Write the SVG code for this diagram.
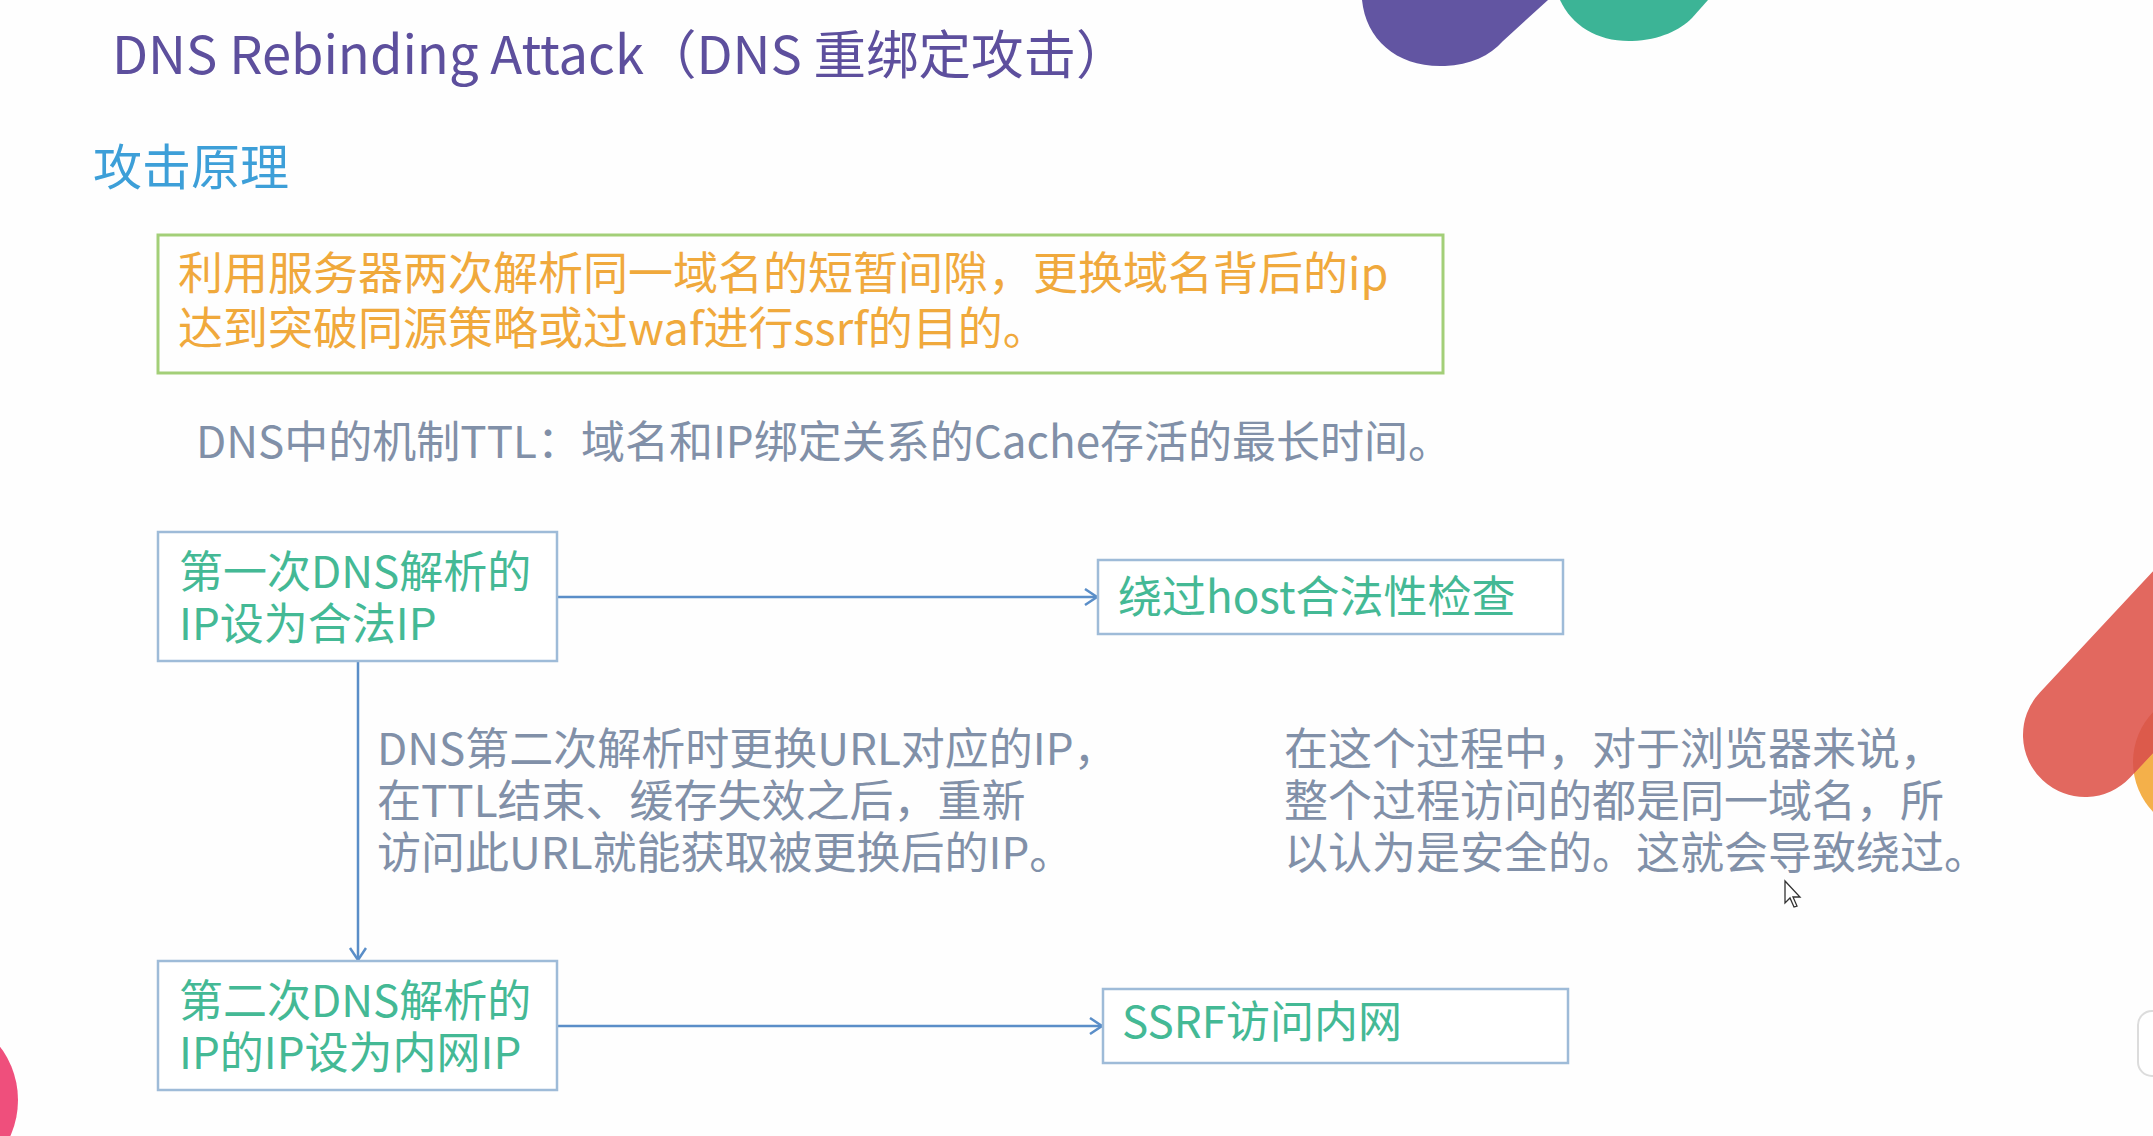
<svg xmlns="http://www.w3.org/2000/svg" width="2153" height="1136" viewBox="0 0 2153 1136">
<defs>
<style>
text{font-family:"Noto Sans CJK SC","Noto Sans",sans-serif;}
.title{font-size:52.5px;fill:#5d4f9d;}
.sub{font-size:49px;fill:#3d9fd8;}
.orange{font-size:45px;fill:#f0a93c;}
.gray{font-size:44px;fill:#8190a8;}
.green{font-size:44px;fill:#44b995;}
.box{fill:#ffffff;stroke:#9ebbd8;stroke-width:2.5;}
.conn{stroke:#5a8ec8;stroke-width:2.5;fill:none;}
</style>
<marker id="chev" markerUnits="userSpaceOnUse" markerWidth="20" markerHeight="20" refX="13" refY="9" orient="auto">
<path d="M1,1 L13,9 L1,17" fill="none" stroke="#5a8ec8" stroke-width="2.5"/>
</marker>
<clipPath id="capclip">
<rect x="2023" y="673" width="420" height="124" rx="62" transform="rotate(-47 2085 735)"/>
</clipPath>
</defs>
<rect x="0" y="0" width="2153" height="1136" fill="#fefefe"/>

<g id="decor">
<path d="M1362,0 C1366,40 1398,68 1445,66 C1470,65 1490,56 1503,41 L1548,0 Z" fill="#6255a2"/>
<path d="M1560,0 C1572,26 1598,42 1632,41 C1660,40 1680,30 1692,18 L1708,0 Z" fill="#3cb496"/>
<circle cx="2205" cy="762" r="72" fill="#f4b04a"/>
<rect x="2023" y="673" width="420" height="124" rx="62" transform="rotate(-47 2085 735)" fill="#e2685f"/>
<circle cx="2205" cy="762" r="72" fill="#dc5a4b" clip-path="url(#capclip)"/>
<circle cx="-70" cy="1100" r="88" fill="#ef4f7c"/>
<rect x="2138" y="1011" width="40" height="65" rx="14" fill="#ffffff" stroke="#dcdcdc" stroke-width="2"/>
<path d="M1785,881 L1785,903 L1790,898 L1794,907 L1797,906 L1793,897 L1800,897 Z" fill="#ffffff" stroke="#333333" stroke-width="1.3"/>
</g>

<g id="heading">
<text class="title" x="112" y="74">DNS Rebinding Attack（DNS 重绑定攻击）</text>
<text class="sub" x="93" y="185">攻击原理</text>
</g>

<g id="summary">
<rect x="158" y="235" width="1285" height="138" fill="none" stroke="#a3cf78" stroke-width="3"/>
<text class="orange" x="178" y="290">利用服务器两次解析同一域名的短暂间隙，更换域名背后的ip</text>
<text class="orange" x="178" y="345">达到突破同源策略或过waf进行ssrf的目的。</text>
</g>

<g id="ttl-note">
<text class="gray" x="196" y="458">DNS中的机制TTL：域名和IP绑定关系的Cache存活的最长时间。</text>
</g>

<g id="connectors">
<line class="conn" x1="557" y1="597" x2="1097" y2="597" marker-end="url(#chev)"/>
<line class="conn" x1="358" y1="661" x2="358" y2="960" marker-end="url(#chev)"/>
<line class="conn" x1="557" y1="1026" x2="1102" y2="1026" marker-end="url(#chev)"/>
</g>

<g id="node-first">
<rect class="box" x="158" y="532" width="399" height="129"/>
<text class="green" x="179" y="588">第一次DNS解析的</text>
<text class="green" x="179" y="640">IP设为合法IP</text>
</g>

<g id="node-bypass">
<rect class="box" x="1098" y="560" width="465" height="74"/>
<text class="green" x="1118" y="613">绕过host合法性检查</text>
</g>

<g id="node-second">
<rect class="box" x="158" y="961" width="399" height="129"/>
<text class="green" x="179" y="1017">第二次DNS解析的</text>
<text class="green" x="179" y="1069">IP的IP设为内网IP</text>
</g>

<g id="node-ssrf">
<rect class="box" x="1103" y="989" width="465" height="74"/>
<text class="green" x="1122" y="1038">SSRF访问内网</text>
</g>

<g id="edge-label">
<text class="gray" x="377" y="765">DNS第二次解析时更换URL对应的IP，</text>
<text class="gray" x="377" y="817">在TTL结束、缓存失效之后，重新</text>
<text class="gray" x="377" y="869">访问此URL就能获取被更换后的IP。</text>
</g>

<g id="side-note">
<text class="gray" x="1284" y="765">在这个过程中，对于浏览器来说，</text>
<text class="gray" x="1284" y="817">整个过程访问的都是同一域名，所</text>
<text class="gray" x="1284" y="869">以认为是安全的。这就会导致绕过。</text>
</g>
</svg>
